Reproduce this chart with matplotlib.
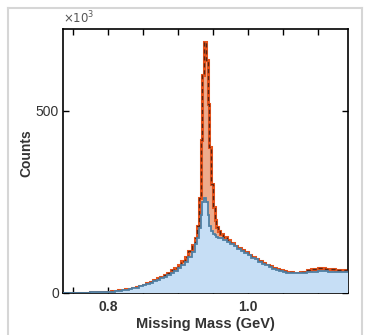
import numpy as np
import matplotlib.pyplot as plt
from matplotlib.ticker import MultipleLocator, FixedLocator

plt.rcParams['font.family'] = ['Liberation Sans', 'DejaVu Sans']

# histogram binning (GeV): 5 MeV bins, 2.5 MeV around the peak
edges = np.concatenate([np.arange(0.735, 0.9249, 0.005),
                        np.arange(0.925, 0.9599, 0.0025),
                        np.arange(0.960, 1.1451, 0.005)])

# counts per bin, in units of 10^3
total_counts = [1, 1, 1, 1, 1, 1, 1, 1, 2, 2,
                2, 3, 3, 4, 5, 6, 7, 9, 10, 12,
                14, 17, 20, 23, 27, 31, 35, 40, 45, 50,
                56, 62, 70, 78, 88, 100, 115, 132,
                # fine bins 0.925 - 0.960
                150, 185, 260, 420, 600, 690, 640, 520, 400, 300,
                235, 200, 182, 170,
                # 0.960 - 1.145
                163, 153, 145, 138, 130, 124, 118, 112, 105, 99,
                94, 88, 83, 78, 73, 69, 65, 62, 60, 58,
                57, 56, 56, 57, 59, 62, 65, 67, 68, 68,
                67, 66, 65, 64, 63, 62, 62]
bkg_counts = [1, 1, 1, 1, 1, 1, 1, 1, 2, 2,
              2, 2, 2, 3, 4, 5, 6, 8, 9, 11,
              13, 15, 18, 21, 25, 28, 32, 36, 40, 45,
              50, 55, 61, 68, 76, 86, 98, 112,
              # fine bins 0.925 - 0.960
              135, 152, 178, 215, 250, 261, 250, 215, 185, 170,
              163, 158, 155, 152,
              # 0.960 - 1.145
              150, 145, 140, 134, 128, 121, 115, 109, 103, 97,
              92, 86, 81, 76, 71, 67, 63, 60, 57, 56,
              55, 55, 55, 55, 56, 57, 58, 59, 60, 60,
              60, 59, 59, 58, 58, 58, 58]

fig = plt.figure(figsize=(3.68, 3.35), dpi=100)
ax = fig.add_axes([63 / 368, 42 / 335, 285 / 368, 264 / 335])

ax.stairs(total_counts, edges, fill=True, color='#eeab8c', zorder=1)
ax.stairs(total_counts, edges, color='#e8541c', lw=2.2, zorder=2)
ax.stairs(total_counts, edges, color='#5a2614', lw=1.0, ls=(0, (3, 2)), zorder=3)
ax.stairs(bkg_counts, edges, fill=True, color='#c6def5', zorder=4)
ax.stairs(bkg_counts, edges, color='#4f7fa3', lw=1.3, zorder=5)

ax.set_xlim(0.736, 1.143)
ax.set_ylim(0, 725)

ax.xaxis.set_major_locator(FixedLocator([0.8, 1.0]))
ax.xaxis.set_minor_locator(MultipleLocator(0.05))
ax.yaxis.set_major_locator(FixedLocator([0, 500]))
ax.set_xticklabels(['0.8', '1.0'], fontweight='bold')
ax.tick_params(which='both', direction='in', top=True, right=True,
               length=4, width=1, labelsize=10, colors='black',
               labelcolor='#333333')
ax.tick_params(axis='x', pad=5)
ax.tick_params(axis='y', pad=3)
for s in ax.spines.values():
    s.set_linewidth(1.2)

ax.set_xlabel('Missing Mass (GeV)', fontsize=10.5, fontweight='bold',
              color='#333333', labelpad=2)
ax.set_ylabel('Counts', fontsize=10, fontweight='bold', color='#333333')
ax.yaxis.set_label_coords(-0.105, 0.53)
ax.text(0.0, 1.01, r'$\times10^3$', transform=ax.transAxes, fontsize=8.5,
        color='#555555', ha='left', va='bottom')

# light frame around the figure
fig.add_artist(plt.Line2D([8 / 368, 8 / 368], [0, 1 - 8 / 335],
                          color='#d6d6d6', lw=1.5, transform=fig.transFigure))
fig.add_artist(plt.Line2D([362 / 368, 362 / 368], [0, 1 - 8 / 335],
                          color='#d6d6d6', lw=1.5, transform=fig.transFigure))
fig.add_artist(plt.Line2D([8 / 368, 362 / 368], [1 - 8 / 335, 1 - 8 / 335],
                          color='#d6d6d6', lw=1.5, transform=fig.transFigure))

fig.savefig('out.png', dpi=100)
